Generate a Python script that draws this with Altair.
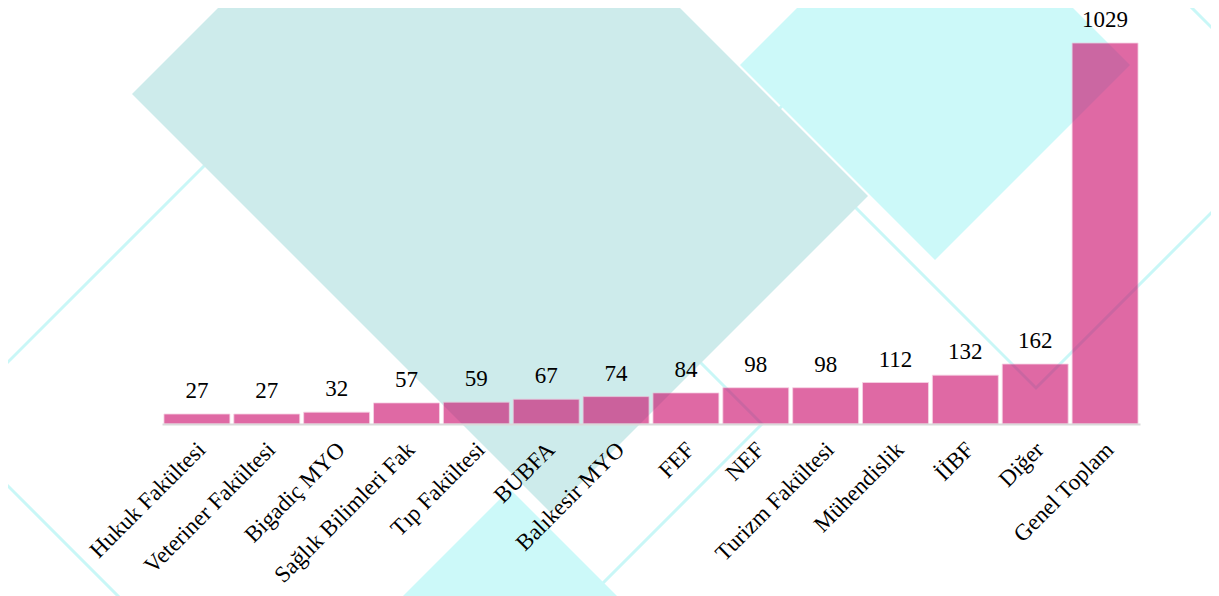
import altair as alt
import pandas as pd

categories = ["Hukuk Fakültesi", "Veteriner Fakültesi", "Bigadiç MYO", "Sağlık Bilimleri Fak",
              "Tıp Fakültesi", "BUBFA", "Balıkesir MYO", "FEF", "NEF", "Turizm Fakültesi",
              "Mühendislik", "İİBF", "Diğer", "Genel Toplam"]
values = [27, 27, 32, 57, 59, 67, 74, 84, 98, 98, 112, 132, 162, 1029]

df = pd.DataFrame({"birim": categories, "sayi": values})

# ---- layout (page pixels) ----
ORIGIN_X, ORIGIN_Y = 162, 43
PLOT_W, PLOT_H = 978, 381
PAD = {"left": ORIGIN_X - 8, "top": ORIGIN_Y - 8, "right": 71, "bottom": 172}

# ---- decorative background (page coordinates of polygon vertices) ----
filled_shapes = [
    ([(510, 489), (710, 689), (510, 889), (310, 689)], "#ccf9f9"),   # bottom cyan
    ([(740, 65), (935, -130), (1130, 65), (935, 260)], "#ccf9f9"),   # upper right cyan
    ([(132, 94), (449, -223), (868, 196), (551, 513)], "#cdebeb"),   # big teal
]
outline_shapes = [
    ([(-54, 424), (354, 16), (762, 424), (354, 832)], "#c9f7f7"),
    ([(768, 120), (1036, -148), (1304, 120), (1036, 388)], "#c9f7f7"),
]


def to_path(pts):
    rel = [(x - ORIGIN_X, y - ORIGIN_Y) for x, y in pts]
    return "M" + " L".join(f"{x},{y}" for x, y in rel) + " Z"


fill_df = pd.DataFrame({"path": [to_path(p) for p, _ in filled_shapes],
                        "col": [c for _, c in filled_shapes],
                        "ord": list(range(len(filled_shapes)))})
line_df = pd.DataFrame({"path": [to_path(p) for p, _ in outline_shapes],
                        "col": [c for _, c in outline_shapes]})

outlines = alt.Chart(line_df).mark_point(filled=False, size=4, strokeWidth=3, opacity=1).encode(
    x=alt.value(0), y=alt.value(0),
    shape=alt.Shape("path:N", scale=None, legend=None),
    stroke=alt.Stroke("col:N", scale=None, legend=None),
)
fills = alt.Chart(fill_df).mark_point(filled=True, size=4, opacity=1, strokeWidth=0).encode(
    x=alt.value(0), y=alt.value(0),
    shape=alt.Shape("path:N", scale=None, legend=None),
    fill=alt.Fill("col:N", scale=None, legend=None),
    order=alt.Order("ord:Q"),
)

x_enc = alt.X("birim:N", sort=None, title=None,
              scale=alt.Scale(paddingInner=0.056, paddingOuter=0.028),
              axis=alt.Axis(labelAngle=-45, labelAlign="right", labelBaseline="top",
                            labelFont="Liberation Serif", labelFontSize=23,
                            labelColor="#000000", ticks=False, domainColor="#d9d9d9",
                            domainWidth=2, labelPadding=14, labelOffset=-3, grid=False,
                            zindex=1, labelOverlap=False, labelLimit=0))
y_enc = alt.Y("sayi:Q", axis=None, scale=alt.Scale(domain=[0, 1029], nice=False, zero=True))

bars = alt.Chart(df).mark_bar(color="#cb0769", opacity=0.6, stroke="#f2b8d4",
                              strokeWidth=1, strokeOpacity=0.8).encode(x=x_enc, y=y_enc)
labels = alt.Chart(df).mark_text(font="Liberation Serif", fontSize=23, color="#000000",
                                 baseline="alphabetic", dy=-16).encode(
    x=alt.X("birim:N", sort=None), y="sayi:Q", text="sayi:Q")

chart = alt.layer(outlines, fills, bars, labels).properties(
    width=PLOT_W, height=PLOT_H,
    autosize=alt.AutoSizeParams(type="none"),
    padding=PAD,
    background="white",
).configure_view(stroke=None)

chart.save("out.html", embed_options={"renderer": "svg", "actions": False})
